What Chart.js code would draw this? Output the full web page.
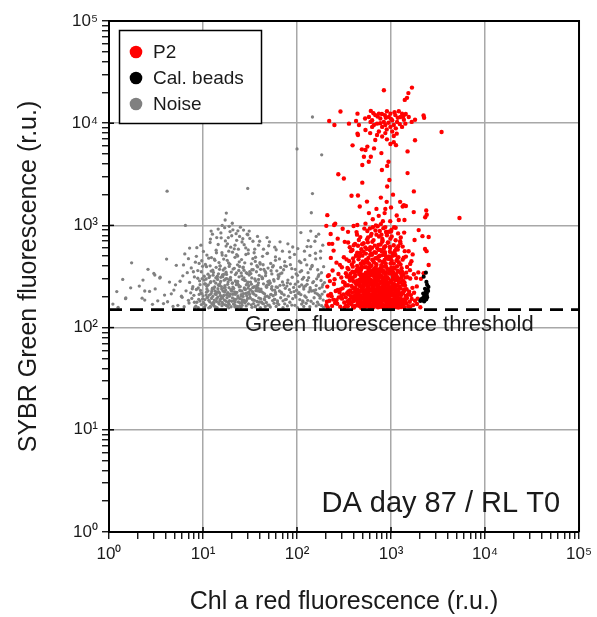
<!DOCTYPE html>
<html><head><meta charset="utf-8">
<script src="https://cdn.jsdelivr.net/npm/chart.js@4.4.1/dist/chart.umd.min.js"></script>
<style>html,body{margin:0;padding:0;background:#fff;}</style>
</head><body>
<canvas id="c" width="597" height="617"></canvas>
<script>
const seriesNames = ['P2', 'Cal. beads', 'Noise'];
const seriesColors = ['#ff0000', '#000000', '#808080'];
const decades = [1, 10, 100, 1000, 10000, 100000];
const xTickLabels = ['10⁰', '10¹', '10²', '10³', '10⁴', '10⁵'];
const yTickLabels = ['10⁰', '10¹', '10²', '10³', '10⁴', '10⁵'];
const minorSteps = [1, 2, 3, 4, 5, 6, 7, 8, 9];
const threshold = 150;
const thresholdLabel = 'Green fluorescence threshold';
const sampleLabel = 'DA day 87 / RL T0';
const xTitle = 'Chl a red fluorescence (r.u.)';
const yTitle = 'SYBR Green fluorescence (r.u.)';

// P2 events, main population: [red, green]
const p2Core = [
[212,158],[268,171],[347,162],[402,157],[463,168],[531,160],[577,173],[618,156],[702,165],[748,170],[811,159],[893,167],[1004,162],[1087,174],[1195,157],[1342,166],[1610,161],[1890,170],
[236,163],[319,157],[381,169],[445,175],[497,161],[560,166],[655,158],[690,172],[776,163],[858,156],[931,171],[968,160],[1132,168],[1278,159],[1455,173],
[205,166],[288,160],[356,174],[420,164],[482,156],[544,170],[603,162],[640,167],[727,158],[792,174],[879,164],[1048,157],[1164,171],[1238,163],[1390,158],[1720,166],
[254,174],[333,165],[395,159],[459,163],[512,172],[588,157],[672,169],[741,161],[823,167],[905,158],[987,173],[1090,165],[1316,170],[1530,162],[2050,158],
[221,183],[301,192],[372,178],[431,196],[470,186],[526,180],[596,199],[631,188],[709,177],[760,194],[846,184],[948,190],[1023,179],[1185,197],[1420,185],[1660,191],
[278,197],[345,181],[410,189],[489,176],[553,193],[614,185],[684,198],[795,182],[866,195],[917,177],[1062,187],[1149,181],[1260,194],[1585,179],
[243,188],[318,176],[389,195],[440,183],[505,191],[571,178],[649,186],[722,193],[774,181],[835,199],[976,184],[1110,192],[1215,178],[1368,189],[1800,183],
[208,179],[361,187],[424,199],[467,180],[538,184],[592,194],[660,176],[701,190],[812,187],[885,179],[940,196],[1036,186],[1172,183],[1480,195],
[262,185],[330,198],[401,182],[478,192],[522,177],[609,189],[688,181],[751,185],[803,196],[872,189],[999,177],[1097,198],[1290,187],[1395,180],[1920,192],
[229,214],[297,205],[352,226],[418,209],[450,219],[516,202],[565,228],[628,212],[737,205],[786,223],[853,210],[925,201],[1070,217],[1206,225],[1630,208],
[283,221],[375,203],[433,216],[494,229],[548,207],[583,214],[676,220],[718,201],[821,227],[891,213],[958,218],[1127,204],[1335,222],[1515,211],
[215,206],[340,217],[404,203],[462,224],[530,211],[620,205],[648,226],[766,215],[840,202],[904,229],[1012,208],[1158,221],[1248,213],[1430,204],[1760,219],
[258,228],[312,211],[386,220],[447,201],[509,215],[556,223],[599,208],[695,229],[744,212],[797,204],[868,218],[972,225],[1055,206],[1196,214],[1370,227],
[233,203],[355,212],[416,227],[475,206],[541,219],[637,203],[668,214],[732,225],[815,209],[882,222],[943,206],[1118,227],[1282,209],[1560,224],
[290,236],[327,258],[396,244],[457,266],[499,239],[576,251],[612,233],[707,262],[779,247],[829,269],[911,241],[1026,255],[1143,234],[1325,263],[1690,245],
[210,252],[368,231],[428,263],[486,246],[519,269],[590,238],[655,256],[758,232],[850,259],[981,243],[1076,267],[1228,250],[1465,237],
[247,267],[305,242],[381,255],[441,235],[503,260],[561,244],[624,268],[683,237],[729,250],[801,233],[864,264],[935,252],[1040,239],[1177,261],[1880,253],
[272,233],[348,260],[409,240],[468,253],[535,232],[603,264],[642,245],[712,257],[783,236],[838,249],[917,266],[1003,231],[1105,248],[1265,242],[1410,258],
[224,285],[321,274],[390,301],[453,279],[490,313],[547,290],[617,271],[694,307],[769,283],[876,296],[960,275],[1151,310],[1342,288],[1600,302],
[296,309],[366,289],[425,272],[480,318],[527,296],[585,281],[661,314],[736,292],[808,277],[847,305],[992,287],[1083,299],[1215,279],[1500,312],
[251,297],[338,316],[399,283],[463,294],[513,276],[570,305],[632,286],[675,273],[750,311],[826,298],[898,282],[1047,315],[1176,293],[1390,276],[2080,300],
[213,319],[309,280],[378,310],[436,287],[498,300],[558,272],[606,296],[700,284],[790,317],[857,289],[929,303],[1016,278],[1123,291],[1298,307],
[276,335],[352,372],[417,326],[474,358],[540,344],[594,389],[648,330],[719,367],[765,352],[843,396],[969,338],[1092,378],[1240,349],[1480,392],[1750,333],
[239,362],[331,341],[392,395],[447,354],[509,328],[578,371],[625,347],[688,385],[742,323],[818,360],[889,342],[1008,387],[1187,356],[1350,329],
[300,389],[371,336],[431,366],[486,398],[553,322],[611,354],[666,377],[731,340],[798,393],[869,331],[944,369],[1060,344],[1160,399],[1590,365],
[218,326],[344,383],[405,348],[465,376],[521,391],[589,337],[637,362],[705,324],[776,381],[836,346],[913,374],[1029,358],[1131,333],[1295,381],[1950,347],
[263,432],[315,488],[383,415],[451,467],[496,506],[563,441],[620,403],[681,478],[754,452],[809,512],[878,425],[996,470],[1210,437],[1440,495],
[229,481],[358,449],[423,503],[477,421],[544,462],[601,517],[658,436],[722,487],[787,409],[855,458],[952,497],[1071,423],[1175,476],[1650,446],
[286,411],[337,465],[400,440],[459,499],[515,428],[575,480],[640,455],[697,418],[760,505],[824,438],[900,483],[1019,450],[1115,514],[1330,462],
[245,567],[364,612],[437,541],[493,655],[549,589],[614,528],[672,634],[741,576],[806,690],[861,548],[968,617],[1098,562],[1260,668],[2300,588],
[322,690],[389,575],[445,632],[511,551],[567,684],[629,603],[690,540],[775,651],[840,595],[924,677],[1044,532],[1195,626],[1540,558],
[414,660],[533,610],[596,573],[715,598],[870,625],[1139,594],
[271,742],[349,865],[471,768],[596,935],[652,718],[792,811],[870,962],[985,742],[1380,850],
[306,928],[435,812],[556,730],[684,890],[745,780],[815,707],[896,845],[1010,905],[1270,762],
[400,985],[620,827],[720,980],[950,868],[1120,950],[560,880],[1780,720],
[405,160],[438,182],[452,205],[470,228],[493,174],[512,251],[528,192],[546,163],[561,215],[575,240],[590,178],[606,268],[621,200],[635,159],[652,226],[667,186],[683,292],[698,207],[713,170],[728,244],[744,198],[760,160],[776,275],[792,221],[808,184],[824,257],[841,165],[858,232],[875,197],[893,310],[911,176],[930,246],[950,212],[970,163],[991,283],[1013,189],[1036,236],[1060,171],[1085,262],[1112,204],[1140,167],[1170,233],[1205,190],[1245,278],[1290,175],[1340,218],
[418,243],[444,167],[466,196],[488,281],[508,158],[525,214],[543,262],[558,183],[573,308],[588,230],[603,170],[618,197],[634,249],[650,165],[664,210],[680,338],[695,183],[710,227],[726,160],[741,266],[757,193],[772,238],[788,172],[804,210],[820,300],[836,163],[853,246],[870,188],[888,224],[906,165],[926,271],[946,199],[968,238],[990,177],[1015,218],[1042,295],[1070,186],[1100,245],[1134,159],[1172,208],[1220,252],[1270,183],[1320,161],[1380,236],
[362,305],[388,352],[412,318],[436,401],[458,335],[481,372],[502,445],[523,311],[545,390],[566,348],[588,420],[611,327],[633,462],[655,365],[677,305],[700,410],[722,345],[745,498],[768,378],[791,320],[814,440],[838,356],[862,528],[886,395],[911,312],[936,470],[962,365],[989,425],[1017,338],[1046,505],[1076,385],[1108,318],[1142,452],[1178,361],[1218,300],[1262,415],[1310,352],[1365,482],[1430,310],
[375,560],[402,640],[428,512],[455,720],[483,585],[511,668],[540,530],[570,762],[601,612],[633,690],[666,548],[700,812],[735,645],[771,575],[808,735],[846,612],[886,868],[928,680],[972,552],[1018,780],[1068,640],[1120,715],[1180,580],[1250,700],[1330,620],
[430,860],[520,930],[610,790],[690,1000],[760,880],[830,940],[905,800],[1000,870],[1080,960],[1190,835],[780,1030],[640,960],
[395,476],[470,538],[547,432],[628,516],[712,475],[798,560],[884,498],[978,602],[1085,540],[1200,488],[1400,560],[1600,420],[1700,520],
[352,318],[414,350],[489,332],[575,305],[660,348],[757,332],[857,310],[957,342],[1062,322],[1170,312],[1290,330],[1450,345],[1850,305]
];

// P2 scattered events: [red, green]
const p2Sparse = [
[582,11500],[630,10700],[680,12000],[743,12400],[770,11100],[839,10300],[905,13100],[948,11500],[985,12400],[1030,10700],
[1110,12000],[1160,10300],[1210,13100],[1260,11500],[1310,12400],[1370,10800],[1420,9900],[657,9600],[710,9900],[805,9200],
[870,9600],[985,9200],[1070,9600],[630,9200],[605,10300],[456,9600],[535,8580],[743,8300],[870,8000],[1030,8300],
[1070,7500],[1310,9200],[445,7670],[710,7670],[805,7400],[905,6950],[985,6250],[680,6850],[560,5900],[1544,11500],
[1435,12300],[880,11300],[800,12300],[610,13200],[530,11100],[425,10500],[1125,8900],[357,9900],[1660,10300],
[720,11600],[860,12000],[1000,11000],[1180,11300],[940,10100],[1240,9800],[770,10000],[1090,12800],[650,12500],[1350,11700],
[900,8700],[1150,7900],[600,8000],
[440,12400],[290,13000],[250,9600],[220,10500],[840,21000],[1670,22300],[1530,19700],[1480,17700],[1400,16900],
[2220,11900],[2250,11300],[1800,10800],[3450,8200],[1800,6800],[1500,5300],[1130,6100],[1070,6500],[660,5670],
[535,5470],[610,4700],[490,5550],[390,6070],[440,7900],
[5350,1180],[2370,1400],[2400,1270],[1750,2150],[1500,3250],[960,2780],[910,2400],[780,1870],[740,1240],[465,1530],
[555,1710],[380,1950],[445,1960],[210,1260],[255,1040],[275,3170],[315,2880],[495,2620],[910,3820],[940,4200],
[800,3480],[580,4200],[515,4700],[495,3900],[790,5100],[205,990],[228,825],[248,1010],[219,660],[237,660],
[350,680],[535,1040],[438,1010],[1330,1530],[1390,1130],[2310,1200],[2515,770],[2390,560],[2160,785],[1970,900],
[1745,1350],[1210,1130],[855,1320],[582,1320],[1370,1580],[1440,1550],[2515,410],[2225,340],
[1000,1500],[900,1700],[1050,2000],[870,1450],[1150,1250],[640,1150],[700,1450],[1250,1700],[980,1100],[820,1100]
];

// Calibration beads: [red, green]
const beads = [
[2100,190],[2200,195],[2300,200],[2250,210],[2400,215],[2350,225],[2450,235],[2500,250],[2150,185],[2050,182],
[2400,205],[2480,228],[2300,240],[2200,215],[2420,262],[2380,280],[2225,315],[2350,345],[2120,188],[2280,192],
[2350,188],[2420,198],[2250,180],[2380,190]
];

// Noise events, main population: [red, green]
const noiseCore = [
[1.25,158],[2.9,169],[4.8,161],[7.1,174],[8.9,157],[10.7,166],[12.4,172],[13.6,159],[15.9,164],[18.8,156],[21.1,170],[24.5,162],[27.9,175],[33.2,158],[38.6,167],[46,161],[57,173],[71,157],[88,166],[112,170],[137,160],[171,168],
[3.8,172],[6.3,160],[9.6,168],[11.5,156],[13.1,163],[14.7,174],[17.3,167],[19.9,160],[23.2,157],[26.1,165],[30.4,171],[36.1,162],[42.5,174],[52,159],[64,168],[79,163],[101,157],[125,173],[160,163],[192,158],
[5.4,165],[8.2,158],[10.2,173],[12.0,161],[14.1,157],[16.4,170],[18.2,162],[21.9,166],[25.3,158],[28.8,163],[34.5,172],[40.8,157],[49,166],[60,161],[74,171],[95,165],[118,161],[149,172],[183,164],
[2.4,186],[4.2,179],[7.6,193],[9.3,182],[11.1,197],[12.9,176],[15.3,189],[17.6,181],[20.6,195],[23.8,178],[27.2,186],[31.6,198],[37.5,180],[44.8,191],[55,184],[67,196],[84,177],[107,188],[141,181],[176,194],
[6.0,198],[8.6,177],[10.5,188],[12.3,193],[13.9,180],[16.0,196],[19.1,184],[22.4,189],[25.9,176],[29.8,193],[35.2,185],[41.9,178],[50.5,197],[62,182],[77,189],[97,199],[130,185],[165,177],
[1.5,192],[3.3,183],[7.0,185],[9.9,191],[11.8,179],[14.4,199],[16.9,186],[18.6,176],[21.4,182],[24.6,192],[28.4,180],[33.6,188],[39.2,195],[47.2,176],[57.5,189],[71,183],[90,192],[116,178],[152,196],[190,186],
[4.6,214],[8.0,207],[10.9,222],[12.7,202],[15.0,218],[17.8,209],[20.3,227],[23.5,204],[27.0,215],[30.9,223],[36.6,206],[43.6,219],[53,211],[65,228],[81,203],[104,216],[134,224],[170,208],
[2.7,226],[5.9,203],[9.1,211],[11.3,229],[13.4,213],[15.6,201],[18.4,220],[22.0,212],[25.1,229],[29.2,205],[34.0,217],[40.1,226],[48.3,203],[59,221],[73,209],[93,225],[121,204],[156,219],
[3.9,208],[7.4,219],[10.0,204],[12.2,215],[14.6,225],[16.6,206],[19.5,213],[22.9,221],[26.7,202],[31.3,211],[37.9,229],[45.2,214],[55.8,205],[69,216],[86,221],[110,210],[143,228],[185,213],
[6.6,229],[9.5,217],[11.7,208],[14.0,221],[16.3,228],[19.0,203],[21.7,224],[25.5,210],[29.6,219],
[1.7,245],[5.1,262],[8.5,236],[11.0,254],[13.0,241],[15.1,268],[17.4,232],[20.8,249],[24.0,259],[28.0,237],[32.7,266],[38.7,243],[46.9,255],[58,233],[72,261],[92,247],[118,238],[160,258],
[35.0,251],[41.4,238],[50,264],[62,247],[78,255],[99,232],[128,265],[174,242],
[3.1,239],[7.8,251],[10.4,267],[12.5,234],[14.9,258],[17.2,247],[20.0,236],[23.4,269],[27.5,244],[32.0,235],[37.2,256],[44.0,268],[53.5,240],[66,259],[83,235],[106,252],[138,246],[188,263],
[2.1,255],[4.9,233],[8.9,244],[11.4,262],[13.3,250],[15.8,238],[18.3,265],[21.2,242],[24.9,252],[28.9,262],[33.8,246],[40.0,231],[48.0,260],[60,250],[75,242],[96,266],[123,256],[158,234],
[5.7,284],[9.8,302],[12.0,276],[14.2,318],[16.8,291],[19.6,310],[22.6,279],[26.4,297],[31.0,327],[36.4,286],[43.1,305],[52,273],[64,316],[80,292],[102,281],[133,308],[180,289],
[3.5,311],[7.2,277],[10.3,292],[12.8,326],[15.4,283],[17.9,301],[20.5,271],[24.2,314],[28.3,288],[33.0,306],[38.9,274],[46.3,322],[56.5,295],[70,280],[89,311],[114,298],[147,275],
[1.4,296],[6.1,321],[9.2,287],[11.6,309],[13.7,272],[16.1,328],[18.9,295],[22.1,286],[25.8,320],[30.1,279],[35.6,299],[42.2,313],[50.8,287],[63,302],[79,274],[101,325],[129,290],[168,317],
[4.4,279],[8.1,313],[10.8,299],[13.1,285],[15.5,311],
[2.6,372],[6.8,345],[9.9,398],[12.2,357],[14.6,336],[17.1,381],[20.0,349],[23.3,411],[27.3,364],[32.3,338],[38.2,392],[45.8,355],[56,403],[69,342],[88,377],[112,360],[144,396],[182,344],
[5.2,407],[8.8,361],[11.3,333],[13.8,389],[16.4,366],[19.3,417],[22.7,342],[26.6,385],[31.4,352],[37.4,404],[44.5,371],[54,335],[67,388],[85,413],[108,351],[139,375],
[3.0,339],[7.5,384],[10.6,415],[12.9,347],[15.2,400],[17.8,331],[20.9,374],[24.5,396],[28.8,345],[34.2,368],[40.6,419],[49.2,382],[61,359],[77,398],[98,336],[127,410],[166,368],
[4.1,468],[8.3,437],[11.0,512],[13.4,455],[15.9,541],[18.7,429],[21.9,487],[25.7,463],[30.3,530],[36.0,444],[43.0,498],[52.5,425],[65,470],[83,551],[106,446],[137,508],[178,479],
[6.4,526],[9.7,451],[12.3,484],[14.8,433],[17.5,505],[20.6,547],[24.3,440],[28.6,519],[33.9,472],[40.3,431],[48.5,535],[59,491],[74,442],[94,520],[121,462],[157,534],
[10.1,556],[16.6,468],[22.8,518],
[8.6,605],[11.9,680],[13.8,572],[15.6,755],[17.6,628],[19.4,870],[21.5,590],[22.8,715],[25.0,960],[27.4,648],[30.0,810],[35.5,585],[40,700],[50,632],[60,578],[80,660],[102,593],[132,710],[160,780],[140,620],
[12.6,820],[14.5,920],[16.0,1000],[18.6,760],[20.5,1050],[23.5,885],[17.2,1130],[26.5,740],[31,880],[48,760],[110,850],[66,690],[12.0,735],[9.5,640],
[8.4,162],[9.0,189],[9.4,231],[10.1,176],[10.6,268],[11.2,198],[11.9,158],[12.6,243],[13.2,186],[13.8,211],[14.3,296],[14.9,170],[15.7,252],[16.2,195],[17.0,223],[17.7,165],[18.5,279],[19.3,204],[20.2,181],[21.0,240],[21.8,160],[22.6,263],[23.6,197],[24.8,174],[26.0,228],[27.6,290],[29.0,184],[30.6,257],[32.6,167],[34.8,213],[37.0,242],[39.8,178],[42.8,301],[46.0,201],[50.5,166],[55,233],[58,189],
[8.8,304],[9.7,215],[10.4,159],[11.0,238],[11.5,185],[12.1,282],[12.8,168],[13.5,227],[14.0,193],[14.6,260],[15.3,206],[16.0,176],[16.7,245],[17.4,299],[18.2,214],[19.0,169],[19.8,233],[20.6,274],[21.5,190],[22.3,218],[23.2,161],[24.3,250],[25.6,203],[26.8,179],[28.2,236],[29.7,270],[31.6,194],[33.6,225],[36.0,160],[38.4,261],[41.0,192],[44.0,171],[47.5,248],[52.5,210],[57,285],[62,173],[68,222],[75,188],[85,268],[96,207],[118,250],[150,230],[176,203],[196,276],
[7.7,240],[8.1,177],[9.3,263],[10.8,208],[11.8,319],[12.4,226],[13.0,172],[13.7,307],[14.4,240],[15.1,183],[16.2,315],[17.1,258],[18.0,196],[18.9,246],[19.7,293],[20.8,212],[22.0,178],[23.4,283],[24.6,231],[25.9,188],[27.3,307],[28.6,216],[30.2,243],[32.0,279],[34.1,186],[36.5,230],[39.0,296],[42.0,225],[45.3,187],[49,282],[54,252],[59,212],
[7.9,352],[9.1,425],[10.3,318],[11.5,478],[12.7,365],[13.9,540],[15.2,402],[16.6,331],[18.1,455],[19.7,612],[21.5,380],[23.4,502],[25.5,343],[27.8,430],[30.3,575],[33.1,368],[36.2,488],[39.7,325],[43.6,412],[48,530],[53,360],[59,455],[66,335],[74,402],[84,485],[96,372],[110,432],
[8.5,498],[10.9,395],[13.2,468],[14.5,650],[16.0,512],[17.3,705],[18.8,560],[20.2,792],[21.9,640],[23.8,585],[26.0,688],[28.5,602],[31.5,745],[35,540],[39,640],[44,585],[51,690],[58,612],[70,560],[90,615],[120,560],
[12.2,880],[14.0,760],[15.5,845],[17.0,950],[18.2,660],[19.0,980],[20.8,905],[22.5,830],[24.5,780],[27.0,900],[29.5,820],[34,700],[38,780],
[6.2,410],[7.0,472],[9.6,352],[11.9,402],[14.1,310],[15.0,372],[17.6,348],[19.0,397],[22.1,330],[24.0,362],[26.8,391],[29.5,338],[32.7,421],[37.0,352],[41.0,372],[46.5,342],[55,392],[63,328],[72,368],
[105,220],[112,262],[118,310],[125,198],[131,345],[138,236],[145,405],[150,282],[158,470],[164,214],[171,330],[178,560],[185,250],[192,395],[128,620],[155,700],[170,820],[140,880],[188,640],[162,300],[115,182],[196,225]
];

// Noise scattered events: [red, green]
const noiseSparse = [
[4.15,2160],[29.9,2300],[100,5600],[183,4900],[146,2050],[142,1330],[17.7,1320],[6.5,1000],[1.74,430],[1.21,225],
[146,11500],[1.51,195],[2.3,292],[2.4,228],[2.25,194],[3.07,327],[3.47,305],[7.2,600],[1.1,170]
];

const FONT = '"Liberation Sans", Arial, Helvetica, sans-serif';
Chart.defaults.font.family = FONT;

function pairsToPoints(list) { return list.map(([x, y]) => ({x: x, y: y})); }

const tickValues = [];
decades.slice(0, -1).forEach(d => minorSteps.forEach(m => tickValues.push(d * m)));
tickValues.push(decades[decades.length - 1]);

function labelFor(labels) {
  return function (value) {
    const i = decades.indexOf(value);
    return i >= 0 ? labels[i] : '';
  };
}
function gridColor(ctx) {
  return ctx.tick && decades.indexOf(ctx.tick.value) >= 0 ? '#a8a8a8' : 'rgba(0,0,0,0)';
}

const decor = {
  id: 'decor',
  afterDraw(chart) {
    const {ctx, chartArea: a, scales: {x, y}} = chart;
    ctx.save();
    ctx.strokeStyle = '#000';
    ctx.lineWidth = 2;
    ctx.beginPath();
    ctx.moveTo(a.left, a.top); ctx.lineTo(a.right, a.top); ctx.lineTo(a.right, a.bottom);
    ctx.stroke();
    ctx.lineWidth = 1.5;
    decades.forEach(v => {
      const px = x.getPixelForValue(v);
      ctx.beginPath(); ctx.moveTo(px, a.bottom); ctx.lineTo(px, a.bottom - 5); ctx.stroke();
      const py = y.getPixelForValue(v);
      ctx.beginPath(); ctx.moveTo(a.left, py); ctx.lineTo(a.left + 5, py); ctx.stroke();
    });
    ctx.fillStyle = '#1a1a1a';
    ctx.font = '22px ' + FONT;
    ctx.textAlign = 'left';
    ctx.textBaseline = 'alphabetic';
    ctx.fillText(thresholdLabel, 245, y.getPixelForValue(threshold) + 21);
    ctx.font = '29px ' + FONT;
    ctx.textAlign = 'right';
    ctx.fillText(sampleLabel, a.right - 19, a.bottom - 20);
    const lx = 119.5, ly = 30.5, lw = 142, lh = 93;
    ctx.fillStyle = '#fff';
    ctx.fillRect(lx, ly, lw, lh);
    ctx.strokeStyle = '#000';
    ctx.lineWidth = 1.5;
    ctx.strokeRect(lx, ly, lw, lh);
    ctx.font = '19px ' + FONT;
    ctx.textAlign = 'left';
    ctx.textBaseline = 'middle';
    const rowsY = [52, 78, 104];
    chart.data.datasets.filter(d => d.inLegend).forEach((d, i) => {
      ctx.fillStyle = d.backgroundColor;
      ctx.beginPath(); ctx.arc(136, rowsY[i], 6.3, 0, Math.PI * 2); ctx.fill();
      ctx.fillStyle = '#1a1a1a';
      ctx.fillText(d.label, 153, rowsY[i] + 1);
    });
    ctx.restore();
  }
};

const axisBase = (labels, titleText) => ({
  type: 'logarithmic',
  min: decades[0],
  max: decades[decades.length - 1],
  afterBuildTicks(s) { s.ticks = tickValues.map(v => ({value: v})); },
  ticks: {
    autoSkip: false, maxRotation: 0, minRotation: 0,
    color: '#1a1a1a', font: {size: 17, family: FONT},
    callback: labelFor(labels)
  },
  grid: {color: gridColor, lineWidth: 1.5, tickLength: 7, tickColor: '#000', tickWidth: 1.3},
  border: {color: '#000', width: 2},
  title: {display: true, text: titleText, color: '#1a1a1a', font: {size: 25, family: FONT, lineHeight: 1}}
});

const xAxis = axisBase(xTickLabels, xTitle);
xAxis.position = 'bottom';
xAxis.ticks.padding = 5;
xAxis.title.padding = {top: 0, bottom: 2};
xAxis.afterFit = s => { s.height = 85; };

const yAxis = axisBase(yTickLabels, yTitle);
yAxis.position = 'left';
yAxis.ticks.padding = 4;
yAxis.title.padding = {top: 17, bottom: 0};
yAxis.afterFit = s => { s.width = 109; };

new Chart(document.getElementById('c'), {
  type: 'scatter',
  data: {
    datasets: [
      {type: 'line', label: thresholdLabel, data: [{x: decades[0], y: threshold}, {x: decades[decades.length - 1], y: threshold}],
       borderColor: '#000', borderWidth: 2.6, borderDash: [13, 8], pointRadius: 0, fill: false, order: 0},
      {label: seriesNames[0], inLegend: true, data: pairsToPoints(p2Core).concat(pairsToPoints(p2Sparse)),
       backgroundColor: seriesColors[0], pointRadius: 2.2, pointBorderWidth: 0, order: 2},
      {label: seriesNames[1], inLegend: true, data: pairsToPoints(beads),
       backgroundColor: seriesColors[1], pointRadius: 2.1, pointBorderWidth: 0, order: 1},
      {label: seriesNames[2], inLegend: true, data: pairsToPoints(noiseCore).concat(pairsToPoints(noiseSparse)),
       backgroundColor: seriesColors[2], pointRadius: 1.65, pointBorderWidth: 0, order: 3}
    ]
  },
  options: {
    responsive: false,
    animation: false,
    events: [],
    layout: {padding: {top: 21, right: 16, left: 0, bottom: 0}},
    plugins: {legend: {display: false}, tooltip: {enabled: false}},
    scales: {x: xAxis, y: yAxis}
  },
  plugins: [decor]
});
</script>
</body></html>
